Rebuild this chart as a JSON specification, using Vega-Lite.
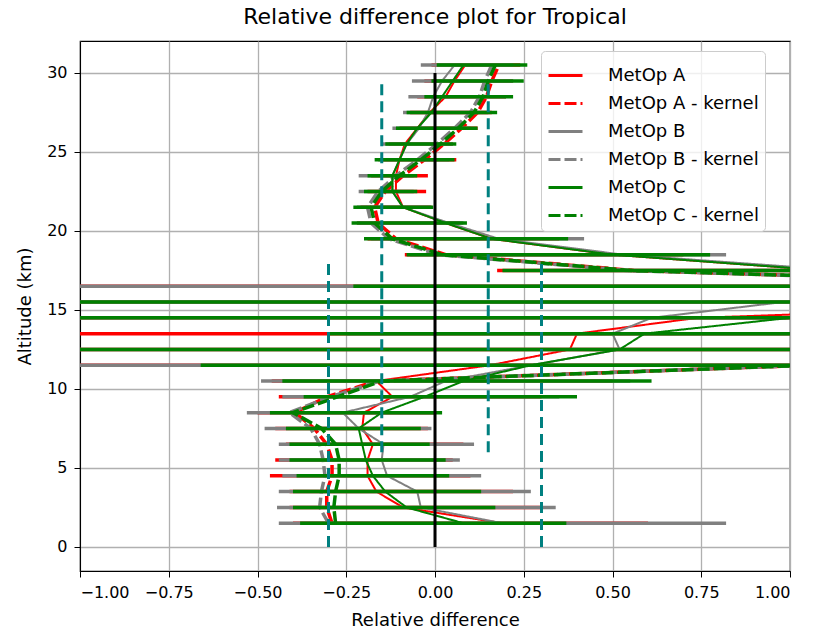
{
"$schema":"https://vega.github.io/schema/vega-lite/v6.json",
"width":710,"height":530,
"autosize":{"type":"none"},
"padding":{"left":80,"top":41,"right":24,"bottom":62},
"title":{"text":"Relative difference plot for Tropical","fontSize":22,"font":"DejaVu Sans","fontWeight":"normal","color":"#000","offset":12,"anchor":"middle"},
"config":{
 "font":"DejaVu Sans",
 "view":{"stroke":"#000","strokeWidth":1.2},
 "axis":{"labelFont":"DejaVu Sans","titleFont":"DejaVu Sans","labelFontSize":16,"titleFontSize":18,"titleFontWeight":"normal","labelColor":"#000","titleColor":"#000","tickColor":"#000","domainColor":"#000","gridColor":"#b0b0b0","gridWidth":1.3,"tickSize":6,"labelPadding":5},
 "legend":{"symbolStrokeWidth":3}
},
"datasets":{
"prof":[
{"series":"MetOp A","alt":1.5,"value":0.19,"lo":-0.40,"hi":0.60},
{"series":"MetOp A","alt":2.5,"value":-0.09,"lo":-0.41,"hi":0.30},
{"series":"MetOp A","alt":3.5,"value":-0.165,"lo":-0.41,"hi":0.22},
{"series":"MetOp A","alt":4.5,"value":-0.19,"lo":-0.465,"hi":0.10},
{"series":"MetOp A","alt":5.5,"value":-0.19,"lo":-0.45,"hi":0.05},
{"series":"MetOp A","alt":6.5,"value":-0.175,"lo":-0.42,"hi":0.08},
{"series":"MetOp A","alt":7.5,"value":-0.205,"lo":-0.45,"hi":-0.02},
{"series":"MetOp A","alt":8.5,"value":-0.2,"lo":-0.50,"hi":0.0},
{"series":"MetOp A","alt":9.5,"value":-0.12,"lo":-0.44,"hi":0.30},
{"series":"MetOp A","alt":10.5,"value":-0.165,"lo":-0.46,"hi":0.50},
{"series":"MetOp A","alt":11.5,"value":0.155,"lo":-1.2,"hi":1.5},
{"series":"MetOp A","alt":12.5,"value":0.38,"lo":-1.5,"hi":2},
{"series":"MetOp A","alt":13.5,"value":0.40,"lo":-1.5,"hi":2},
{"series":"MetOp A","alt":14.5,"value":0.74,"lo":-1.5,"hi":2},
{"series":"MetOp A","alt":15.5,"value":2.0,"lo":-1.5,"hi":2},
{"series":"MetOp A","alt":16.5,"value":2.0,"lo":-1.5,"hi":2},
{"series":"MetOp A","alt":17.5,"value":1.1,"lo":0.175,"hi":2},
{"series":"MetOp A","alt":18.5,"value":0.5,"lo":-0.085,"hi":0.70},
{"series":"MetOp A","alt":19.5,"value":0.16,"lo":-0.19,"hi":0.35},
{"series":"MetOp A","alt":20.5,"value":0.03,"lo":-0.22,"hi":0.07},
{"series":"MetOp A","alt":21.5,"value":-0.09,"lo":-0.21,"hi":-0.01},
{"series":"MetOp A","alt":22.5,"value":-0.11,"lo":-0.19,"hi":-0.025},
{"series":"MetOp A","alt":23.5,"value":-0.11,"lo":-0.18,"hi":-0.02},
{"series":"MetOp A","alt":24.5,"value":-0.10,"lo":-0.15,"hi":0.06},
{"series":"MetOp A","alt":25.5,"value":-0.085,"lo":-0.13,"hi":0.05},
{"series":"MetOp A","alt":26.5,"value":-0.05,"lo":-0.10,"hi":0.12},
{"series":"MetOp A","alt":27.5,"value":-0.015,"lo":-0.07,"hi":0.16},
{"series":"MetOp A","alt":28.5,"value":0.03,"lo":-0.05,"hi":0.20},
{"series":"MetOp A","alt":29.5,"value":0.055,"lo":-0.03,"hi":0.22},
{"series":"MetOp A","alt":30.5,"value":0.085,"lo":-0.01,"hi":0.24},
{"series":"MetOp B","alt":1.5,"value":0.19,"lo":-0.44,"hi":0.82},
{"series":"MetOp B","alt":2.5,"value":-0.04,"lo":-0.445,"hi":0.34},
{"series":"MetOp B","alt":3.5,"value":-0.05,"lo":-0.44,"hi":0.27},
{"series":"MetOp B","alt":4.5,"value":-0.135,"lo":-0.43,"hi":0.13},
{"series":"MetOp B","alt":5.5,"value":-0.15,"lo":-0.44,"hi":0.07},
{"series":"MetOp B","alt":6.5,"value":-0.145,"lo":-0.44,"hi":0.11},
{"series":"MetOp B","alt":7.5,"value":-0.215,"lo":-0.48,"hi":-0.01},
{"series":"MetOp B","alt":8.5,"value":-0.26,"lo":-0.53,"hi":0.0},
{"series":"MetOp B","alt":9.5,"value":-0.07,"lo":-0.43,"hi":0.35},
{"series":"MetOp B","alt":10.5,"value":0.03,"lo":-0.49,"hi":0.55},
{"series":"MetOp B","alt":11.5,"value":0.27,"lo":-1.5,"hi":1.5},
{"series":"MetOp B","alt":12.5,"value":0.52,"lo":-1.5,"hi":2},
{"series":"MetOp B","alt":13.5,"value":0.50,"lo":-0.25,"hi":2},
{"series":"MetOp B","alt":14.5,"value":0.61,"lo":-1.5,"hi":2},
{"series":"MetOp B","alt":15.5,"value":0.98,"lo":-1.5,"hi":2},
{"series":"MetOp B","alt":16.5,"value":2.0,"lo":-1.5,"hi":2},
{"series":"MetOp B","alt":17.5,"value":1.15,"lo":0.3,"hi":2},
{"series":"MetOp B","alt":18.5,"value":0.53,"lo":-0.07,"hi":0.82},
{"series":"MetOp B","alt":19.5,"value":0.18,"lo":-0.18,"hi":0.42},
{"series":"MetOp B","alt":20.5,"value":0.04,"lo":-0.22,"hi":0.08},
{"series":"MetOp B","alt":21.5,"value":-0.09,"lo":-0.22,"hi":-0.01},
{"series":"MetOp B","alt":22.5,"value":-0.12,"lo":-0.215,"hi":-0.06},
{"series":"MetOp B","alt":23.5,"value":-0.12,"lo":-0.215,"hi":-0.06},
{"series":"MetOp B","alt":24.5,"value":-0.10,"lo":-0.16,"hi":0.04},
{"series":"MetOp B","alt":25.5,"value":-0.08,"lo":-0.15,"hi":0.05},
{"series":"MetOp B","alt":26.5,"value":-0.045,"lo":-0.12,"hi":0.10},
{"series":"MetOp B","alt":27.5,"value":-0.02,"lo":-0.09,"hi":0.15},
{"series":"MetOp B","alt":28.5,"value":-0.005,"lo":-0.075,"hi":0.20},
{"series":"MetOp B","alt":29.5,"value":0.02,"lo":-0.065,"hi":0.22},
{"series":"MetOp B","alt":30.5,"value":0.055,"lo":-0.04,"hi":0.22},
{"series":"MetOp C","alt":1.5,"value":0.08,"lo":-0.38,"hi":0.37},
{"series":"MetOp C","alt":2.5,"value":-0.08,"lo":-0.40,"hi":0.17},
{"series":"MetOp C","alt":3.5,"value":-0.14,"lo":-0.40,"hi":0.13},
{"series":"MetOp C","alt":4.5,"value":-0.175,"lo":-0.39,"hi":0.04},
{"series":"MetOp C","alt":5.5,"value":-0.195,"lo":-0.41,"hi":0.03},
{"series":"MetOp C","alt":6.5,"value":-0.205,"lo":-0.41,"hi":-0.015},
{"series":"MetOp C","alt":7.5,"value":-0.215,"lo":-0.42,"hi":-0.04},
{"series":"MetOp C","alt":8.5,"value":-0.15,"lo":-0.465,"hi":0.02},
{"series":"MetOp C","alt":9.5,"value":-0.03,"lo":-0.37,"hi":0.40},
{"series":"MetOp C","alt":10.5,"value":0.08,"lo":-0.43,"hi":0.61},
{"series":"MetOp C","alt":11.5,"value":0.27,"lo":-0.66,"hi":1.5},
{"series":"MetOp C","alt":12.5,"value":0.52,"lo":-1.5,"hi":2},
{"series":"MetOp C","alt":13.5,"value":0.59,"lo":-0.30,"hi":2},
{"series":"MetOp C","alt":14.5,"value":1.0,"lo":-1.5,"hi":2},
{"series":"MetOp C","alt":15.5,"value":2.0,"lo":-1.5,"hi":2},
{"series":"MetOp C","alt":16.5,"value":2.0,"lo":-0.23,"hi":2},
{"series":"MetOp C","alt":17.5,"value":1.1,"lo":0.19,"hi":2},
{"series":"MetOp C","alt":18.5,"value":0.5,"lo":-0.08,"hi":0.775},
{"series":"MetOp C","alt":19.5,"value":0.16,"lo":-0.20,"hi":0.375},
{"series":"MetOp C","alt":20.5,"value":0.03,"lo":-0.235,"hi":0.09},
{"series":"MetOp C","alt":21.5,"value":-0.09,"lo":-0.23,"hi":-0.005},
{"series":"MetOp C","alt":22.5,"value":-0.12,"lo":-0.20,"hi":-0.05},
{"series":"MetOp C","alt":23.5,"value":-0.12,"lo":-0.19,"hi":-0.05},
{"series":"MetOp C","alt":24.5,"value":-0.10,"lo":-0.17,"hi":0.055},
{"series":"MetOp C","alt":25.5,"value":-0.08,"lo":-0.14,"hi":0.06},
{"series":"MetOp C","alt":26.5,"value":-0.05,"lo":-0.11,"hi":0.12},
{"series":"MetOp C","alt":27.5,"value":-0.01,"lo":-0.08,"hi":0.175},
{"series":"MetOp C","alt":28.5,"value":0.02,"lo":-0.03,"hi":0.22},
{"series":"MetOp C","alt":29.5,"value":0.05,"lo":-0.01,"hi":0.25},
{"series":"MetOp C","alt":30.5,"value":0.08,"lo":0.005,"hi":0.26},
{"series":"MetOp A - kernel","alt":1.5,"value":-0.29},
{"series":"MetOp A - kernel","alt":2.5,"value":-0.305},
{"series":"MetOp A - kernel","alt":3.5,"value":-0.305},
{"series":"MetOp A - kernel","alt":4.5,"value":-0.29},
{"series":"MetOp A - kernel","alt":5.5,"value":-0.29},
{"series":"MetOp A - kernel","alt":6.5,"value":-0.305},
{"series":"MetOp A - kernel","alt":7.5,"value":-0.34},
{"series":"MetOp A - kernel","alt":8.5,"value":-0.395},
{"series":"MetOp A - kernel","alt":9.5,"value":-0.305},
{"series":"MetOp A - kernel","alt":10.5,"value":-0.165},
{"series":"MetOp A - kernel","alt":11.5,"value":1.05},
{"series":"MetOp A - kernel","alt":12.5,"value":2.0},
{"series":"MetOp A - kernel","alt":13.5,"value":2.0},
{"series":"MetOp A - kernel","alt":14.5,"value":2.0},
{"series":"MetOp A - kernel","alt":15.5,"value":2.0},
{"series":"MetOp A - kernel","alt":16.5,"value":2.0},
{"series":"MetOp A - kernel","alt":17.5,"value":0.56},
{"series":"MetOp A - kernel","alt":18.5,"value":0.03},
{"series":"MetOp A - kernel","alt":19.5,"value":-0.11},
{"series":"MetOp A - kernel","alt":20.5,"value":-0.16},
{"series":"MetOp A - kernel","alt":21.5,"value":-0.17},
{"series":"MetOp A - kernel","alt":22.5,"value":-0.14},
{"series":"MetOp A - kernel","alt":23.5,"value":-0.09},
{"series":"MetOp A - kernel","alt":24.5,"value":-0.03},
{"series":"MetOp A - kernel","alt":25.5,"value":0.025},
{"series":"MetOp A - kernel","alt":26.5,"value":0.075},
{"series":"MetOp A - kernel","alt":27.5,"value":0.12},
{"series":"MetOp A - kernel","alt":28.5,"value":0.145},
{"series":"MetOp A - kernel","alt":29.5,"value":0.16},
{"series":"MetOp A - kernel","alt":30.5,"value":0.18},
{"series":"MetOp B - kernel","alt":1.5,"value":-0.30},
{"series":"MetOp B - kernel","alt":2.5,"value":-0.325},
{"series":"MetOp B - kernel","alt":3.5,"value":-0.32},
{"series":"MetOp B - kernel","alt":4.5,"value":-0.31},
{"series":"MetOp B - kernel","alt":5.5,"value":-0.315},
{"series":"MetOp B - kernel","alt":6.5,"value":-0.325},
{"series":"MetOp B - kernel","alt":7.5,"value":-0.35},
{"series":"MetOp B - kernel","alt":8.5,"value":-0.41},
{"series":"MetOp B - kernel","alt":9.5,"value":-0.295},
{"series":"MetOp B - kernel","alt":10.5,"value":-0.155},
{"series":"MetOp B - kernel","alt":11.5,"value":1.05},
{"series":"MetOp B - kernel","alt":12.5,"value":2.0},
{"series":"MetOp B - kernel","alt":13.5,"value":2.0},
{"series":"MetOp B - kernel","alt":14.5,"value":2.0},
{"series":"MetOp B - kernel","alt":15.5,"value":2.0},
{"series":"MetOp B - kernel","alt":16.5,"value":2.0},
{"series":"MetOp B - kernel","alt":17.5,"value":0.54},
{"series":"MetOp B - kernel","alt":18.5,"value":0.01},
{"series":"MetOp B - kernel","alt":19.5,"value":-0.13},
{"series":"MetOp B - kernel","alt":20.5,"value":-0.18},
{"series":"MetOp B - kernel","alt":21.5,"value":-0.19},
{"series":"MetOp B - kernel","alt":22.5,"value":-0.16},
{"series":"MetOp B - kernel","alt":23.5,"value":-0.11},
{"series":"MetOp B - kernel","alt":24.5,"value":-0.05},
{"series":"MetOp B - kernel","alt":25.5,"value":0.005},
{"series":"MetOp B - kernel","alt":26.5,"value":0.055},
{"series":"MetOp B - kernel","alt":27.5,"value":0.10},
{"series":"MetOp B - kernel","alt":28.5,"value":0.125},
{"series":"MetOp B - kernel","alt":29.5,"value":0.14},
{"series":"MetOp B - kernel","alt":30.5,"value":0.16},
{"series":"MetOp C - kernel","alt":1.5,"value":-0.28},
{"series":"MetOp C - kernel","alt":2.5,"value":-0.285},
{"series":"MetOp C - kernel","alt":3.5,"value":-0.28},
{"series":"MetOp C - kernel","alt":4.5,"value":-0.27},
{"series":"MetOp C - kernel","alt":5.5,"value":-0.27},
{"series":"MetOp C - kernel","alt":6.5,"value":-0.28},
{"series":"MetOp C - kernel","alt":7.5,"value":-0.32},
{"series":"MetOp C - kernel","alt":8.5,"value":-0.40},
{"series":"MetOp C - kernel","alt":9.5,"value":-0.275},
{"series":"MetOp C - kernel","alt":10.5,"value":-0.15},
{"series":"MetOp C - kernel","alt":11.5,"value":1.05},
{"series":"MetOp C - kernel","alt":12.5,"value":2.0},
{"series":"MetOp C - kernel","alt":13.5,"value":2.0},
{"series":"MetOp C - kernel","alt":14.5,"value":2.0},
{"series":"MetOp C - kernel","alt":15.5,"value":2.0},
{"series":"MetOp C - kernel","alt":16.5,"value":2.0},
{"series":"MetOp C - kernel","alt":17.5,"value":0.55},
{"series":"MetOp C - kernel","alt":18.5,"value":0.02},
{"series":"MetOp C - kernel","alt":19.5,"value":-0.12},
{"series":"MetOp C - kernel","alt":20.5,"value":-0.17},
{"series":"MetOp C - kernel","alt":21.5,"value":-0.18},
{"series":"MetOp C - kernel","alt":22.5,"value":-0.15},
{"series":"MetOp C - kernel","alt":23.5,"value":-0.10},
{"series":"MetOp C - kernel","alt":24.5,"value":-0.04},
{"series":"MetOp C - kernel","alt":25.5,"value":0.015},
{"series":"MetOp C - kernel","alt":26.5,"value":0.065},
{"series":"MetOp C - kernel","alt":27.5,"value":0.11},
{"series":"MetOp C - kernel","alt":28.5,"value":0.135},
{"series":"MetOp C - kernel","alt":29.5,"value":0.15},
{"series":"MetOp C - kernel","alt":30.5,"value":0.17}
],
"thr":[
{"kind":"limit","x":-0.3,"a0":0,"a1":18},
{"kind":"limit","x":0.3,"a0":0,"a1":18},
{"kind":"limit","x":-0.15,"a0":6,"a1":29.6},
{"kind":"limit","x":0.15,"a0":6,"a1":29.6},
{"kind":"zero","x":0,"a0":0,"a1":30}
]
},
"layer":[
{"data":{"name":"prof"},"transform":[{"filter":"datum.series == 'MetOp A'"}],
 "mark":{"type":"rule","clip":true,"strokeWidth":3.5,"color":"#ff0000"},
 "encoding":{
  "x":{"field":"lo","type":"quantitative","title":"Relative difference","scale":{"domain":[-1,1],"nice":false,"zero":false},
       "axis":{"values":[-1,-0.75,-0.5,-0.25,0,0.25,0.5,0.75,1],"format":".2f","labelPadding":7,"titlePadding":11,"grid":true}},
  "x2":{"field":"hi"},
  "y":{"field":"alt","type":"quantitative","title":"Altitude (km)","scale":{"domain":[-1.525,32.025],"nice":false,"zero":false},
       "axis":{"values":[0,5,10,15,20,25,30],"labelPadding":7,"titlePadding":12,"grid":true}}
 }},
{"data":{"name":"prof"},"transform":[{"filter":"datum.series == 'MetOp A'"}],
 "mark":{"type":"line","clip":true,"strokeWidth":2},
 "encoding":{
  "x":{"field":"value","type":"quantitative","title":"Relative difference"},
  "y":{"field":"alt","type":"quantitative","title":"Altitude (km)"},
  "order":{"field":"alt","type":"quantitative"},
  "color":{"field":"series","type":"nominal","scale":{"domain":["MetOp A","MetOp A - kernel","MetOp B","MetOp B - kernel","MetOp C","MetOp C - kernel"],"range":["#ff0000","#ff0000","#808080","#808080","#008000","#008000"]},
    "legend":{"title":null,"orient":"none","legendX":461,"legendY":10,"symbolType":"stroke","symbolSize":1156,"rowPadding":-4,"padding":6,"labelOffset":24,"labelFontSize":18,"labelFont":"DejaVu Sans","labelColor":"#000","fillColor":"rgba(255,255,255,0.8)","strokeColor":"#cccccc","cornerRadius":4,"symbolStrokeWidth":3}},
  "strokeDash":{"field":"series","type":"nominal","scale":{"domain":["MetOp A","MetOp A - kernel","MetOp B","MetOp B - kernel","MetOp C","MetOp C - kernel"],"range":[[1,0],[12,4],[1,0],[12,4],[1,0],[12,4]]}}
 }},
{"data":{"name":"prof"},"transform":[{"filter":"datum.series == 'MetOp A - kernel'"}],
 "mark":{"type":"line","clip":true,"strokeWidth":3.5},
 "encoding":{
  "x":{"field":"value","type":"quantitative","title":"Relative difference"},
  "y":{"field":"alt","type":"quantitative","title":"Altitude (km)"},
  "order":{"field":"alt","type":"quantitative"},
  "color":{"field":"series","type":"nominal"},
  "strokeDash":{"field":"series","type":"nominal"}
 }},
{"data":{"name":"prof"},"transform":[{"filter":"datum.series == 'MetOp B'"}],
 "mark":{"type":"rule","clip":true,"strokeWidth":3.5,"color":"#808080"},
 "encoding":{
  "x":{"field":"lo","type":"quantitative","title":"Relative difference"},
  "x2":{"field":"hi"},
  "y":{"field":"alt","type":"quantitative","title":"Altitude (km)"}
 }},
{"data":{"name":"prof"},"transform":[{"filter":"datum.series == 'MetOp B'"}],
 "mark":{"type":"line","clip":true,"strokeWidth":2},
 "encoding":{
  "x":{"field":"value","type":"quantitative","title":"Relative difference"},
  "y":{"field":"alt","type":"quantitative","title":"Altitude (km)"},
  "order":{"field":"alt","type":"quantitative"},
  "color":{"field":"series","type":"nominal"},
  "strokeDash":{"field":"series","type":"nominal"}
 }},
{"data":{"name":"prof"},"transform":[{"filter":"datum.series == 'MetOp B - kernel'"}],
 "mark":{"type":"line","clip":true,"strokeWidth":3.5},
 "encoding":{
  "x":{"field":"value","type":"quantitative","title":"Relative difference"},
  "y":{"field":"alt","type":"quantitative","title":"Altitude (km)"},
  "order":{"field":"alt","type":"quantitative"},
  "color":{"field":"series","type":"nominal"},
  "strokeDash":{"field":"series","type":"nominal"}
 }},
{"data":{"name":"prof"},"transform":[{"filter":"datum.series == 'MetOp C'"}],
 "mark":{"type":"rule","clip":true,"strokeWidth":3.5,"color":"#008000"},
 "encoding":{
  "x":{"field":"lo","type":"quantitative","title":"Relative difference"},
  "x2":{"field":"hi"},
  "y":{"field":"alt","type":"quantitative","title":"Altitude (km)"}
 }},
{"data":{"name":"prof"},"transform":[{"filter":"datum.series == 'MetOp C'"}],
 "mark":{"type":"line","clip":true,"strokeWidth":2},
 "encoding":{
  "x":{"field":"value","type":"quantitative","title":"Relative difference"},
  "y":{"field":"alt","type":"quantitative","title":"Altitude (km)"},
  "order":{"field":"alt","type":"quantitative"},
  "color":{"field":"series","type":"nominal"},
  "strokeDash":{"field":"series","type":"nominal"}
 }},
{"data":{"name":"prof"},"transform":[{"filter":"datum.series == 'MetOp C - kernel'"}],
 "mark":{"type":"line","clip":true,"strokeWidth":3.5},
 "encoding":{
  "x":{"field":"value","type":"quantitative","title":"Relative difference"},
  "y":{"field":"alt","type":"quantitative","title":"Altitude (km)"},
  "order":{"field":"alt","type":"quantitative"},
  "color":{"field":"series","type":"nominal"},
  "strokeDash":{"field":"series","type":"nominal"}
 }},
{"data":{"name":"thr"},"transform":[{"filter":"datum.kind == 'limit'"}],
 "mark":{"type":"rule","clip":true,"strokeWidth":3,"color":"#008080","strokeDash":[11,6]},
 "encoding":{
  "x":{"field":"x","type":"quantitative","title":"Relative difference"},
  "y":{"field":"a0","type":"quantitative","title":"Altitude (km)"},
  "y2":{"field":"a1"}
 }},
{"data":{"name":"thr"},"transform":[{"filter":"datum.kind == 'zero'"}],
 "mark":{"type":"rule","clip":true,"strokeWidth":3,"color":"#000000"},
 "encoding":{
  "x":{"field":"x","type":"quantitative","title":"Relative difference"},
  "y":{"field":"a0","type":"quantitative","title":"Altitude (km)"},
  "y2":{"field":"a1"}
 }}
]
}
